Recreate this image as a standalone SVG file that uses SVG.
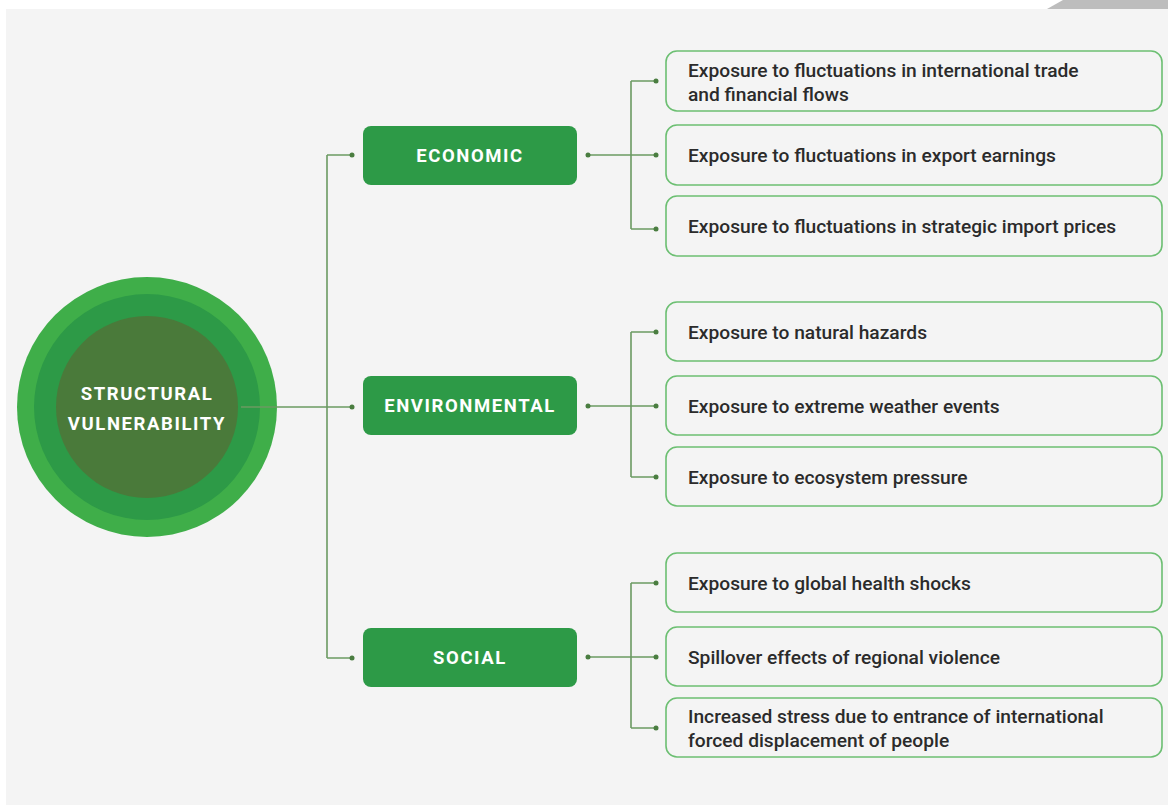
<svg xmlns="http://www.w3.org/2000/svg" width="1168" height="805" viewBox="0 0 1168 805">
<style>
.cat{fill:#2d9a47}
.cat-t{font-family:Roboto,"Liberation Sans",sans-serif;font-weight:700;font-size:18.5px;letter-spacing:1.6px;fill:#ffffff;text-anchor:middle}
.item{fill:#f4f4f4;stroke:#6cbf72;stroke-width:1.6}
.item-t{font-family:Roboto,"Liberation Sans",sans-serif;font-weight:500;font-size:19.2px;fill:#2b2b2b}
.con{fill:none;stroke:#6b9a62;stroke-width:1.6}
.dot{fill:#4a7d40}
</style>
<rect x="0" y="0" width="1168" height="805" fill="#ffffff"/>
<rect x="6" y="9" width="1162" height="796" fill="#f4f4f4"/>
<polygon points="1047,9 1063,0 1168,0 1168,9" fill="#bdbdbd"/>

<g id="structural-vulnerability">
<circle cx="147" cy="407" r="130" fill="#3fae49"/>
<circle cx="147" cy="407" r="113" fill="#2d9a47"/>
<circle cx="147" cy="407" r="91" fill="#4a7a3a"/>
<text class="cat-t" x="147" y="400">STRUCTURAL</text>
<text class="cat-t" x="147" y="430">VULNERABILITY</text>
</g>

<g id="economic">
<rect class="cat" x="363" y="126" width="214" height="59" rx="8"/>
<text class="cat-t" x="470" y="162">ECONOMIC</text>
</g>
<g id="environmental">
<rect class="cat" x="363" y="376" width="214" height="59" rx="8"/>
<text class="cat-t" x="470" y="412">ENVIRONMENTAL</text>
</g>
<g id="social">
<rect class="cat" x="363" y="628" width="214" height="59" rx="8"/>
<text class="cat-t" x="470" y="664">SOCIAL</text>
</g>

<g id="eco-1">
<rect class="item" x="666" y="51" width="496" height="60" rx="11"/>
<text class="item-t" x="688" y="76.5">Exposure to fluctuations in international trade</text>
<text class="item-t" x="688" y="100.5">and financial flows</text>
</g>
<g id="eco-2">
<rect class="item" x="666" y="125" width="496" height="60" rx="11"/>
<text class="item-t" x="688" y="162">Exposure to fluctuations in export earnings</text>
</g>
<g id="eco-3">
<rect class="item" x="666" y="196" width="496" height="60" rx="11"/>
<text class="item-t" x="688" y="233">Exposure to fluctuations in strategic import prices</text>
</g>

<g id="env-1">
<rect class="item" x="666" y="302" width="496" height="59" rx="11"/>
<text class="item-t" x="688" y="338.5">Exposure to natural hazards</text>
</g>
<g id="env-2">
<rect class="item" x="666" y="376" width="496" height="59" rx="11"/>
<text class="item-t" x="688" y="413">Exposure to extreme weather events</text>
</g>
<g id="env-3">
<rect class="item" x="666" y="447" width="496" height="59" rx="11"/>
<text class="item-t" x="688" y="484">Exposure to ecosystem pressure</text>
</g>

<g id="soc-1">
<rect class="item" x="666" y="553" width="496" height="59" rx="11"/>
<text class="item-t" x="688" y="589.5">Exposure to global health shocks</text>
</g>
<g id="soc-2">
<rect class="item" x="666" y="627" width="496" height="59" rx="11"/>
<text class="item-t" x="688" y="664">Spillover effects of regional violence</text>
</g>
<g id="soc-3">
<rect class="item" x="666" y="698" width="496" height="59" rx="11"/>
<text class="item-t" x="688" y="723">Increased stress due to entrance of international</text>
<text class="item-t" x="688" y="747">forced displacement of people</text>
</g>

<g id="connectors">
<path class="con" d="M241,407 H352 M327,155 V658 M327,155 H352 M327,658 H352"/>
<circle class="dot" cx="352" cy="155" r="2.5"/>
<circle class="dot" cx="352" cy="407" r="2.5"/>
<circle class="dot" cx="352" cy="658" r="2.5"/>
<path class="con" d="M588,155 H656 M631,81 V229 M631,81 H656 M631,229 H656"/>
<circle class="dot" cx="588" cy="155" r="2.5"/>
<circle class="dot" cx="656" cy="81" r="2.5"/>
<circle class="dot" cx="656" cy="155" r="2.5"/>
<circle class="dot" cx="656" cy="229" r="2.5"/>
<path class="con" d="M588,406 H656 M631,332 V477 M631,332 H656 M631,477 H656"/>
<circle class="dot" cx="588" cy="406" r="2.5"/>
<circle class="dot" cx="656" cy="332" r="2.5"/>
<circle class="dot" cx="656" cy="406" r="2.5"/>
<circle class="dot" cx="656" cy="477" r="2.5"/>
<path class="con" d="M588,657 H656 M631,583 V728 M631,583 H656 M631,728 H656"/>
<circle class="dot" cx="588" cy="657" r="2.5"/>
<circle class="dot" cx="656" cy="583" r="2.5"/>
<circle class="dot" cx="656" cy="657" r="2.5"/>
<circle class="dot" cx="656" cy="728" r="2.5"/>
</g>
</svg>
